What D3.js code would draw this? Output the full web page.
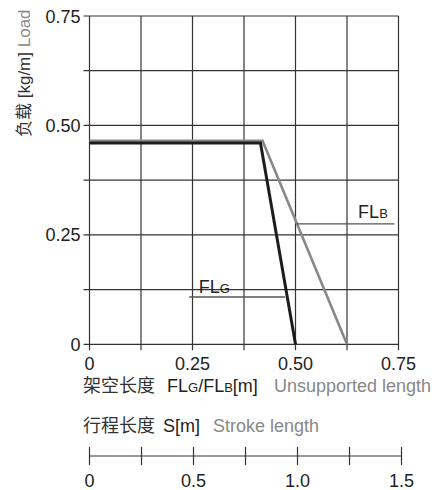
<!DOCTYPE html>
<html>
<head>
<meta charset="utf-8">
<script src="https://cdn.jsdelivr.net/npm/d3@7"></script>
<style>
  body { margin: 0; background: #fff; }
  svg text { font-family: "Liberation Sans", Arial, "Noto Sans CJK SC", sans-serif; }
</style>
</head>
<body>
<div id="chart"></div>
<script>
// Daten
const xTicks = [0, 0.25, 0.5, 0.75];
const yTicks = [0, 0.25, 0.5, 0.75];
const gridSteps = [0, 0.125, 0.25, 0.375, 0.5, 0.625, 0.75];
const strokeTicks = [0, 0.25, 0.5, 0.75, 1.0, 1.25, 1.5];
const strokeLabels = [0, 0.5, 1.0, 1.5];

// FLG (schwarz) und FLB (grau)
const xG = [0, 0.415, 0.5];
const yG = [0.46, 0.46, 0];
const xB = [0, 0.42, 0.625];
const yB = [0.465, 0.465, 0];

// Beschriftungen mit Hinweislinie
const labelG = { text: "FL", sub: "G", x: 0.265, y: 0.118, x1: 0.242, x2: 0.475, ly: 0.108 };
const labelB = { text: "FL", sub: "B", x: 0.652, y: 0.288, x1: 0.503, x2: 0.74, ly: 0.275 };

const width = 443;
const height = 490;
const margin = { top: 16, right: 45, bottom: 146, left: 89.5 };

const svg = d3.select("#chart")
    .append("svg")
    .attr("width", width)
    .attr("height", height);

const xScale = d3.scaleLinear().domain([0, 0.75]).range([margin.left, 398.5]);
const yScale = d3.scaleLinear().domain([0, 0.75]).range([344.3, margin.top]);
const sScale = d3.scaleLinear().domain([0, 1.5]).range([89.5, 401.5]);

const gridColor = "#333";
const black = "#1c1c1c";
const grey = "#888";
const fs = 18;

// Gitter
svg.append("g").selectAll("line")
    .data(gridSteps)
    .enter().append("line")
    .attr("x1", xScale(0) - 6).attr("x2", xScale(0.75))
    .attr("y1", d => yScale(d)).attr("y2", d => yScale(d))
    .attr("stroke", gridColor).attr("stroke-width", 1.2);

svg.append("g").selectAll("line")
    .data(gridSteps)
    .enter().append("line")
    .attr("x1", d => xScale(d)).attr("x2", d => xScale(d))
    .attr("y1", yScale(0.75)).attr("y2", yScale(0) + 6)
    .attr("stroke", gridColor).attr("stroke-width", 1.2);

// Achsenbeschriftungen
svg.append("g").selectAll("text")
    .data(yTicks)
    .enter().append("text")
    .attr("x", xScale(0) - 9)
    .attr("y", d => yScale(d) + 6.5)
    .attr("text-anchor", "end")
    .attr("font-size", fs)
    .attr("fill", "#222")
    .text(d => d === 0 ? "0" : d.toFixed(2));

svg.append("g").selectAll("text")
    .data(xTicks)
    .enter().append("text")
    .attr("x", d => xScale(d))
    .attr("y", 370)
    .attr("text-anchor", "middle")
    .attr("font-size", fs)
    .attr("fill", "#222")
    .text(d => d === 0 ? "0" : d.toFixed(2));

// Linien
const line = d3.line().x(d => xScale(d[0])).y(d => yScale(d[1]));

svg.append("path")
    .datum(xB.map((x, i) => [x, yB[i]]))
    .attr("d", line)
    .attr("fill", "none")
    .attr("stroke", grey)
    .attr("stroke-width", 2.6)
    .attr("stroke-linejoin", "miter");

svg.append("path")
    .datum(xG.map((x, i) => [x, yG[i]]))
    .attr("d", line)
    .attr("fill", "none")
    .attr("stroke", black)
    .attr("stroke-width", 3)
    .attr("stroke-linejoin", "miter");

// Labels FLG / FLB
[labelG, labelB].forEach(l => {
    svg.append("line")
        .attr("x1", xScale(l.x1)).attr("x2", xScale(l.x2))
        .attr("y1", yScale(l.ly)).attr("y2", yScale(l.ly))
        .attr("stroke", "#555").attr("stroke-width", 1.3);
    const t = svg.append("text")
        .attr("x", xScale(l.x))
        .attr("y", yScale(l.y))
        .attr("font-size", fs)
        .attr("fill", "#222");
    t.append("tspan").text(l.text);
    t.append("tspan").attr("font-size", 13).text(l.sub);
});

// y-Achsentitel
const yTitle = svg.append("text")
    .attr("transform", `translate(30,137) rotate(-90)`)
    .attr("font-size", 17);
yTitle.append("tspan").attr("fill", "#333").text("负载 [kg/m] ");
yTitle.append("tspan").attr("fill", grey).text("Load");

// x-Achsentitel
const xTitle = svg.append("text")
    .attr("y", 392)
    .attr("font-size", fs);
xTitle.append("tspan").attr("x", 83).attr("fill", "#333").text("架空长度");
xTitle.append("tspan").attr("x", 167).attr("fill", "#222").text("FL");
xTitle.append("tspan").attr("fill", "#222").attr("font-size", 13).text("G");
xTitle.append("tspan").attr("fill", "#222").text("/FL");
xTitle.append("tspan").attr("fill", "#222").attr("font-size", 13).text("B");
xTitle.append("tspan").attr("fill", "#222").text("[m]");
xTitle.append("tspan").attr("x", 274).attr("fill", grey).text("Unsupported length");

const sTitle = svg.append("text")
    .attr("y", 432)
    .attr("font-size", fs);
sTitle.append("tspan").attr("x", 83).attr("fill", "#333").text("行程长度");
sTitle.append("tspan").attr("x", 163).attr("fill", "#222").text("S[m]");
sTitle.append("tspan").attr("x", 213).attr("fill", grey).text("Stroke length");

// Hubachse
const sy = 456;
svg.append("line")
    .attr("x1", sScale(0)).attr("x2", sScale(1.5))
    .attr("y1", sy).attr("y2", sy)
    .attr("stroke", gridColor).attr("stroke-width", 1.2);

svg.append("g").selectAll("line")
    .data(strokeTicks)
    .enter().append("line")
    .attr("x1", d => sScale(d)).attr("x2", d => sScale(d))
    .attr("y1", sy - 9).attr("y2", sy + 9)
    .attr("stroke", gridColor).attr("stroke-width", 1.2);

svg.append("g").selectAll("text")
    .data(strokeLabels)
    .enter().append("text")
    .attr("x", d => sScale(d))
    .attr("y", 487)
    .attr("text-anchor", "middle")
    .attr("font-size", fs)
    .attr("fill", "#222")
    .text(d => d === 0 ? "0" : d.toFixed(1));
</script>
</body>
</html>
